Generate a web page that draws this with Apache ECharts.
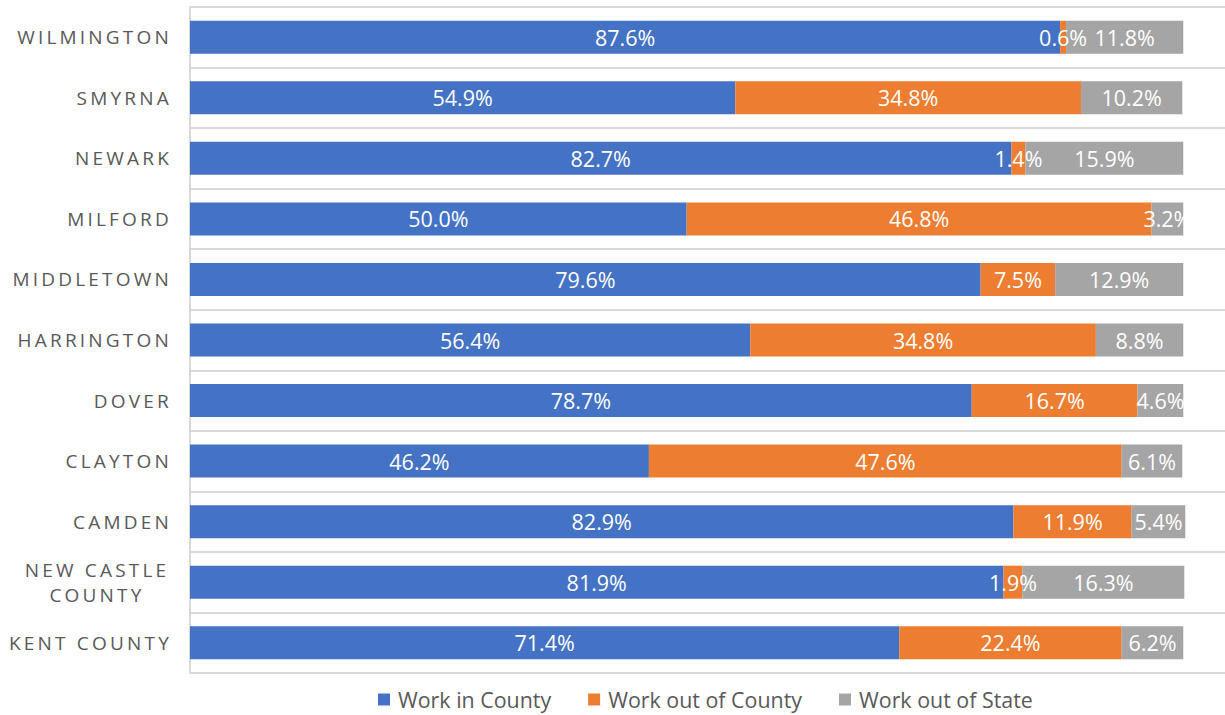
<!DOCTYPE html>
<html>
<head>
<meta charset="utf-8">
<script src="https://cdn.jsdelivr.net/npm/echarts@6/dist/echarts.min.js"></script>
<style>html,body{margin:0;padding:0;background:#fff;}#c{width:1225px;height:715px;}</style>
</head>
<body>
<div id="c"></div>
<script>
const categories = ['WILMINGTON','SMYRNA','NEWARK','MILFORD','MIDDLETOWN','HARRINGTON','DOVER','CLAYTON','CAMDEN','NEW CASTLE\nCOUNTY','KENT COUNTY'];
const workInCounty    = [87.6, 54.9, 82.7, 50.0, 79.6, 56.4, 78.7, 46.2, 82.9, 81.9, 71.4];
const workOutOfCounty = [0.6, 34.8, 1.4, 46.8, 7.5, 34.8, 16.7, 47.6, 11.9, 1.9, 22.4];
const workOutOfState  = [11.8, 10.2, 15.9, 3.2, 12.9, 8.8, 4.6, 6.1, 5.4, 16.3, 6.2];
const seriesNames = ['Work in County','Work out of County','Work out of State'];
const colors = ['#4472C4','#ED7D31','#A5A5A5'];

const chart = echarts.init(document.getElementById('c'), null, { renderer: 'svg' });
const FONT = '"Open Sans", "Noto Sans", sans-serif';
function mk(name, data, color) {
  return {
    name, type: 'bar', stack: 'total', data, barWidth: 33,
    itemStyle: { color },
    label: {
      show: true, position: 'inside', color: '#fff',
      fontFamily: FONT, fontSize: 21.5,
      formatter: p => p.value.toFixed(1) + '%'
    }
  };
}
chart.setOption({
  animation: false,
  color: colors,
  textStyle: { fontFamily: FONT },
  grid: { left: 190, right: 0, top: 7, bottom: 42, containLabel: false },
  xAxis: { type: 'value', min: 0, max: 104.2, show: false },
  yAxis: {
    type: 'category', data: categories, inverse: true,
    axisTick: { show: false },
    axisLine: { show: true, lineStyle: { color: '#D9D9D9', width: 2 } },
    splitLine: { show: true, lineStyle: { color: '#D9D9D9', width: 2 } },
    axisLabel: {
      color: '#595959', fontFamily: FONT, fontSize: 19, margin: 18, lineHeight: 25,
      formatter: v => v.indexOf('\n') >= 0 ? v.split('\n').map(s => '{c|' + s + '}').join('\n') : v,
      rich: { c: { width: 150, align: 'center', color: '#595959', fontFamily: FONT, fontSize: 19, lineHeight: 25 } }
    }
  },
  legend: {
    top: 684, left: 373,
    icon: 'rect', itemWidth: 12, itemHeight: 12, itemGap: 37,
    textStyle: { color: '#595959', fontFamily: FONT, fontSize: 21.4, padding: [0, 0, 0, 3] },
    data: seriesNames
  },
  series: [
    mk(seriesNames[0], workInCounty, colors[0]),
    mk(seriesNames[1], workOutOfCounty, colors[1]),
    mk(seriesNames[2], workOutOfState, colors[2])
  ]
});
// letter-spaced category labels (style only)
const labelLines = new Set();
categories.forEach(c => c.split('\n').forEach(s => labelLines.add(s)));
document.querySelectorAll('#c svg text').forEach(t => {
  if (labelLines.has(t.textContent)) t.style.letterSpacing = '3.2px';
});
</script>
</body>
</html>
